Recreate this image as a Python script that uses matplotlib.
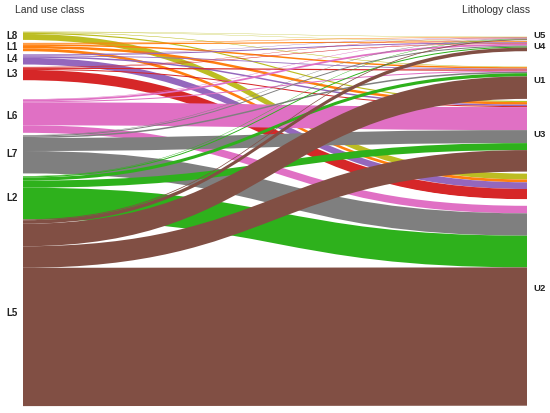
import matplotlib.pyplot as plt
import numpy as np
from matplotlib.path import Path
from matplotlib.patches import PathPatch

plt.rcParams['font.family'] = ['Liberation Sans', 'DejaVu Sans']

# land use classes (left), "" = unclassified / no data
sources = ["L8", "L1", "L4", "L3", "", "L6", "L7", "L2", "L5"]
src_colors = ["#bcbd22", "#ff7f0e", "#9467bd", "#d62728", "#ffffff",
              "#e070c4", "#7f7f7f", "#2eb11c", "#814f44"]
# lithology classes (right)
targets = ["U5", "U4", "U1", "U3", "U2"]

# flow areas, rows = sources, cols = targets
flows = np.array([
    [0.3, 0.3, 0.5, 1.2, 5.9],
    [0.5, 1.0, 1.5, 2.5, 2.8],
    [0.3, 1.0, 0.8, 1.5, 6.7],
    [0.3, 0.5, 1.2, 1.0, 10.3],
    [0.0, 0.0, 0.0, 0.0, 6.5],
    [0.4, 1.8, 1.0, 23.0, 7.5],
    [0.4, 1.0, 1.5, 13.0, 22.4],
    [0.4, 1.0, 3.2, 7.0, 31.7],
    [0.8, 3.6, 22.5, 21.5, 138.3],
])

# layout
x_left, x_right = 23, 527
src_top, tgt_top = 31.7, 36.8
src_gaps = [3, 3, 2.4, 6.2, 6.2, 2.3, 2.7, 0]
tgt_gaps = [0.8, 15.5, 2, 2]
tgt_label_nudge = [-3, 0.8, -2, -2, -1]


def stack(sizes, top, gaps):
    y0 = []
    y = top
    for i, s in enumerate(sizes):
        y0.append(y)
        y += s
        if i < len(gaps):
            y += gaps[i]
    return np.array(y0)


src_size = flows.sum(axis=1)
tgt_size = flows.sum(axis=0)
src_y = stack(src_size, src_top, src_gaps)
tgt_y = stack(tgt_size, tgt_top, tgt_gaps)

fig = plt.figure(figsize=(5.5, 4.13), dpi=100)
ax = fig.add_axes([0, 0, 1, 1])
ax.set_xlim(0, 550)
ax.set_ylim(413, 0)
ax.axis('off')

xm = (x_left + x_right) / 2
# offsets inside each target: stacked by source order
tgt_pos = np.zeros_like(flows)
for j in range(len(targets)):
    y = tgt_y[j]
    for i in range(len(sources)):
        tgt_pos[i, j] = y
        y += flows[i, j]

for i in range(len(sources)):
    y = src_y[i]
    for j in range(len(targets)):
        w = flows[i, j]
        if w <= 0:
            continue
        a0, a1 = y, y + w
        b0, b1 = tgt_pos[i, j], tgt_pos[i, j] + w
        verts = [(x_left, a0), (xm, a0), (xm, b0), (x_right, b0),
                 (x_right, b1), (xm, b1), (xm, a1), (x_left, a1), (x_left, a0)]
        codes = [Path.MOVETO, Path.CURVE4, Path.CURVE4, Path.CURVE4,
                 Path.LINETO, Path.CURVE4, Path.CURVE4, Path.CURVE4, Path.CLOSEPOLY]
        ax.add_patch(PathPatch(Path(verts, codes), fc=src_colors[i], ec='none', lw=0))
        y += w

for i, name in enumerate(sources):
    if name:
        ax.text(18, src_y[i] + src_size[i] / 2, name, ha='right', va='center',
                fontsize=7, fontweight='bold', color='#222222')
for j, name in enumerate(targets):
    ax.text(533, tgt_y[j] + tgt_size[j] / 2 + tgt_label_nudge[j], name, ha='left', va='center',
            fontsize=6.8, fontweight='bold', color='#222222')

ax.text(15, 10, "Land use class", ha='left', va='center', fontsize=7.5, color='#333333')
ax.text(530, 10, "Lithology class", ha='right', va='center', fontsize=7.5, color='#333333')

fig.savefig("out.png", dpi=100)
